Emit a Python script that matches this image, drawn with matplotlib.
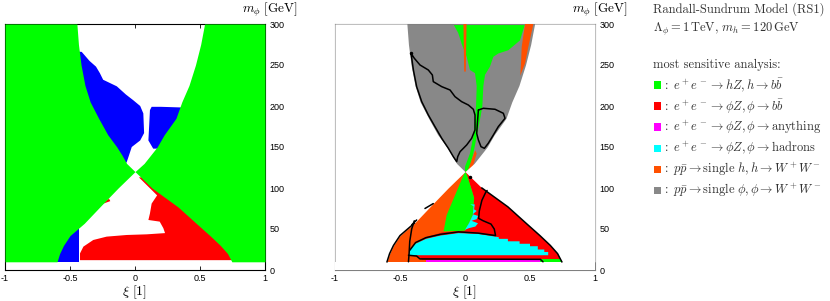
import matplotlib.pyplot as plt
import numpy as np
from matplotlib.patches import Rectangle

plt.rcParams['mathtext.fontset'] = 'cm'

# edge of the allowed (xi, m_phi) region
m_lo = [10, 20, 30, 42, 57, 77, 100, 120]
left_lo = [-0.6, -0.58, -0.55, -0.5, -0.39, -0.27, -0.13, 0.0]
right_lo = [0.745, 0.712, 0.656, 0.576, 0.47, 0.33, 0.13, 0.0]
m_up = [130, 140, 150, 165, 185, 205, 225, 250, 275, 300]
left_up = [-0.065, -0.1, -0.14, -0.21, -0.28, -0.345, -0.385, -0.415, -0.435, -0.447]
right_up = [0.07, 0.12, 0.17, 0.225, 0.315, 0.36, 0.415, 0.465, 0.505, 0.535]

# left panel regions (xi, m_phi)
blue_upper_left = [(-0.6, 268), (-0.41, 266), (-0.35, 255), (-0.3, 248), (-0.27, 240),
                   (-0.245, 232), (-0.14, 224), (-0.07, 214), (-0.013, 207), (0.04, 200),
                   (0.064, 191), (0.07, 167), (0.04, 158), (-0.025, 150), (-0.05, 138),
                   (-0.065, 131), (-0.6, 131)]
blue_upper_right = [(0.128, 199), (0.2, 199), (0.6, 197), (0.6, 148), (0.14, 148),
                    (0.103, 158), (0.11, 179), (0.115, 195)]
blue_lower_left = [(-0.8, 57), (-0.43, 57), (-0.43, 10), (-0.8, 10)]
red_lower = [(0.03, 113), (0.17, 91), (0.128, 81), (0.115, 69), (0.103, 61), (0.19, 59),
             (0.218, 51), (0.231, 45), (0.09, 43.5), (-0.064, 42.7), (-0.218, 40.7),
             (-0.321, 36.6), (-0.397, 28.5), (-0.423, 20.3), (-0.423, 12), (1.0, 12),
             (1.0, 113)]
red_speck = [(-0.26, 80), (-0.2, 87), (-0.19, 84)]

# right panel regions (xi, m_phi)
green_band = [(-0.09, 300), (-0.052, 289), (-0.026, 276), (0.013, 260), (0.038, 244),
              (0.077, 240), (0.09, 224), (0.085, 200), (0.077, 183), (0.064, 163),
              (0.038, 142), (0.0, 126), (0.0, 120), (0.01, 120), (0.038, 126),
              (0.064, 142), (0.09, 163), (0.115, 183), (0.133, 199), (0.141, 224),
              (0.154, 238), (0.192, 248), (0.218, 260), (0.256, 264), (0.333, 268),
              (0.423, 280), (0.462, 300)]
orange_center = [(-0.012, 300), (0.012, 300), (0.006, 242), (-0.006, 242)]
orange_right = [(0.462, 300), (0.526, 300), (0.487, 272), (0.462, 252), (0.425, 237),
                (0.431, 252), (0.436, 272)]
orange_apex = [(0.02, 121), (0.06, 126), (0.09, 142), (0.078, 146), (0.05, 134), (0.03, 125)]
red_wedge = [(0.0, 120), (0.015, 116), (0.045, 101), (0.07, 88), (0.065, 78), (0.06, 67),
             (0.03, 57), (0.0, 48), (-0.17, 46), (-0.3, 40), (-0.43, 26), (-0.43, 18),
             (-0.35, 16), (-0.33, 12.5), (1.0, 12.5), (1.0, 120)]
green_wedge = [(0.0, 120), (-0.077, 91), (-0.141, 67), (-0.165, 47), (0.0, 48), (0.03, 57),
               (0.06, 67), (0.065, 78), (0.07, 88), (0.045, 101), (0.015, 116)]
cyan_bits = [(0.04, 80), (0.075, 80), (0.07, 74), (0.09, 72), (0.06, 68), (0.1, 66),
             (0.09, 62), (0.05, 60), (0.1, 57), (0.08, 53), (0.03, 51), (0.0, 49),
             (0.03, 57), (0.06, 67), (0.065, 78)]
cyan_main = [(-0.43, 18), (-0.43, 24), (-0.38, 32), (-0.3, 38), (-0.19, 42), (-0.05, 45),
             (0.1, 44), (0.26, 40), (0.26, 38), (0.33, 38), (0.33, 35), (0.42, 35),
             (0.42, 32), (0.5, 32), (0.5, 29), (0.56, 29), (0.56, 25), (0.61, 25),
             (0.61, 22), (0.64, 22), (0.64, 18)]
magenta_strip = [(-0.3, 10), (0.58, 10), (0.58, 12.5), (-0.3, 12.5)]
green_corner = [(0.58, 10), (1.0, 10), (1.0, 13), (0.58, 13)]

# black contours in the right panel
contour_a = [(-0.415, 264.2), (-0.39, 258.2), (-0.346, 250), (-0.282, 243.9), (-0.251, 237.8),
             (-0.244, 229.7), (-0.179, 223.6), (-0.115, 219.5), (-0.077, 211.4),
             (-0.026, 205.3), (0.026, 201.2), (0.064, 196), (0.077, 189), (0.077, 170.8),
             (0.051, 160.6), (0.013, 152.5), (-0.038, 144.3), (-0.056, 138.2),
             (-0.064, 132.1), (-0.09, 138.2), (-0.128, 148.4), (-0.179, 160.6),
             (-0.231, 174.8), (-0.282, 189), (-0.333, 205.3), (-0.372, 223.6),
             (-0.397, 243.9), (-0.415, 264.2)]
contour_e = [(0.103, 195.1), (0.141, 197.2), (0.231, 196), (0.295, 191.1), (0.308, 185),
             (0.256, 174.8), (0.218, 164.6), (0.179, 154.5), (0.149, 148.4), (0.123, 150.4),
             (0.103, 158.6), (0.09, 166.7), (0.097, 183), (0.103, 195.1)]
contour_b = [(0.17, 97), (0.16, 95), (0.13, 85), (0.11, 72), (0.105, 63), (0.14, 60),
             (0.2, 56), (0.225, 50), (0.235, 42), (0.1, 45), (-0.05, 46.5), (-0.19, 43.5),
             (-0.3, 39.5), (-0.38, 33.5), (-0.425, 24)]
contour_left = [(-0.39, 60), (-0.41, 50), (-0.425, 35), (-0.43, 20), (-0.435, 10)]
contour_bottom = [(-0.435, 18), (-0.372, 17), (-0.346, 13.5), (0.58, 13), (0.6, 10)]
dashes_left = [[(-0.308, 75), (-0.244, 81)], [(-0.41, 55), (-0.372, 61)]]

legend_colors = ['#00ff00', '#ff0000', '#ff00ff', '#00ffff', '#ff5000', '#888888']
legend_labels = [r'$:\ e^+e^- \to hZ, h \to b\bar{b}$',
                 r'$:\ e^+e^- \to \phi Z, \phi \to b\bar{b}$',
                 r'$:\ e^+e^- \to \phi Z, \phi \to \mathrm{anything}$',
                 r'$:\ e^+e^- \to \phi Z, \phi \to \mathrm{hadrons}$',
                 r'$:\ p\bar{p} \to \mathrm{single}\ h, h \to W^+W^-$',
                 r'$:\ p\bar{p} \to \mathrm{single}\ \phi, \phi \to W^+W^-$']

m_all = m_lo + m_up
left_all = left_lo + left_up
right_all = right_lo + right_up


def poly(ax, pts, color, z=2):
    xs, ys = zip(*pts)
    ax.fill(xs, ys, color=color, lw=0, zorder=z)


def line(ax, pts, lw=1.1):
    xs, ys = zip(*pts)
    ax.plot(xs, ys, color='black', lw=lw, zorder=6, solid_capstyle='round')


def style(ax, spine_color):
    ax.set_xlim(-1, 1)
    ax.set_ylim(0, 300)
    ax.set_xticks([-1, -0.5, 0, 0.5, 1])
    ax.set_xticklabels(['-1', '-0.5', '0', '0.5', '1'])
    ax.set_yticks(range(0, 301, 50))
    ax.tick_params(direction='in', length=3, width=0.6, top=True, right=True, left=True,
                   labelleft=False, labelright=True, labelsize=6.5, pad=3,
                   color=spine_color)
    for lab in ax.get_xticklabels() + ax.get_yticklabels():
        lab.set_fontfamily('Liberation Sans')
    for s in ax.spines.values():
        s.set_color(spine_color)
        s.set_linewidth(0.8)
    ax.text(0.5, -0.09, r'$\xi\ [1]$', transform=ax.transAxes, fontsize=10,
            ha='center', va='center')
    ax.text(0.913, 1.058, r'$m_\phi\ [\mathrm{GeV}]$', transform=ax.transAxes,
            fontsize=9.5, ha='left', va='center')


fig = plt.figure(figsize=(8.3, 3.01), dpi=100)
ax1 = fig.add_axes([5 / 830, 31 / 301, 260 / 830, 246 / 301])
ax2 = fig.add_axes([335 / 830, 31 / 301, 260 / 830, 246 / 301])

# left panel
poly(ax1, blue_upper_left, '#0000ff')
poly(ax1, blue_upper_right, '#0000ff')
poly(ax1, blue_lower_left, '#0000ff')
poly(ax1, red_lower, '#ff0000')
poly(ax1, red_speck, '#ff0000')
ax1.fill_betweenx(m_all, -1, left_all, color='#00ff00', lw=0, zorder=4)
ax1.fill_betweenx(m_all, right_all, 1, color='#00ff00', lw=0, zorder=4)
style(ax1, 'black')

# right panel
ax2.fill_betweenx([120, 300], -1, 1, color='#888888', lw=0, zorder=1)
ax2.fill_betweenx([10, 120], -1, 1, color='#ff5000', lw=0, zorder=1)
poly(ax2, green_band, '#00ff00')
poly(ax2, orange_center, '#ff5000', 3)
poly(ax2, orange_right, '#ff5000', 3)
poly(ax2, orange_apex, '#ff5000', 3)
poly(ax2, red_wedge, '#ff0000')
poly(ax2, green_wedge, '#00ff00', 3)
poly(ax2, cyan_bits, '#00ffff', 3)
poly(ax2, cyan_main, '#00ffff', 3)
poly(ax2, magenta_strip, '#ff00ff', 3)
poly(ax2, green_corner, '#00ff00', 3)
ax2.fill_betweenx(m_all, -1, left_all, color='white', lw=0, zorder=4)
ax2.fill_betweenx(m_all, right_all, 1, color='white', lw=0, zorder=4)
ax2.fill_betweenx([0, 10], -1, 1, color='white', lw=0, zorder=4)

for c in [contour_a, contour_e, contour_b, contour_left, contour_bottom] + dashes_left:
    line(ax2, c)
ax2.plot(right_lo[:-1], m_lo[:-1], color='black', lw=1.1, zorder=6)
ax2.plot(left_lo[:5], m_lo[:5], color='black', lw=1.1, zorder=6)
ax2.plot([0.04], [113], 'k.', ms=3, zorder=6)
ax2.plot([-0.415], [264.2], 'k.', ms=3, zorder=6)
style(ax2, '#808080')


# legend / annotation column
def fy(py):
    return 1 - py / 301


fig.text(653 / 830, fy(9), 'Randall-Sundrum Model (RS1)', family='cmr10', fontsize=9,
         va='center', color='#333333')
fig.text(653 / 830, fy(29), r'$\Lambda_\phi = 1\,\mathrm{TeV},\, m_h = 120\,\mathrm{GeV}$',
         fontsize=9, va='center', color='#333333')
fig.text(653 / 830, fy(65), 'most sensitive analysis:', family='cmr10', fontsize=9,
         va='center', color='#333333')
for i, (c, lab) in enumerate(zip(legend_colors, legend_labels)):
    y = 85 + i * 21
    fig.patches.append(Rectangle((654 / 830, fy(y + 3.5)), 7 / 830, 7 / 301,
                                 transform=fig.transFigure, color=c, lw=0))
    fig.text(662 / 830, fy(y), lab, fontsize=9, va='center', color='#333333')

fig.savefig('out.png', dpi=100)
